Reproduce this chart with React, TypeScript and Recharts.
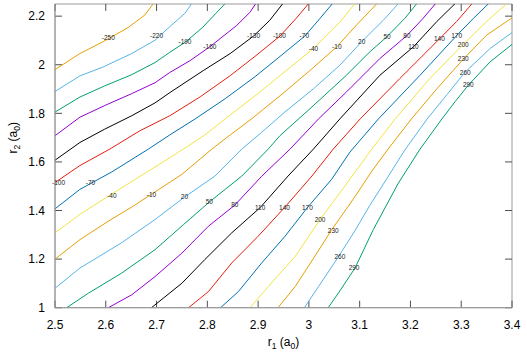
import React from 'react';
import { ComposedChart, Line, Scatter, XAxis, YAxis, ReferenceArea, ReferenceLine } from 'recharts';

type P = [number, number];

const levels = [-250, -220, -190, -160, -130, -100, -70, -40, -10, 20, 50, 80, 110, 140, 170, 200, 230, 260, 290];
const palette = ['#e69f00', '#56b4e9', '#009e73', '#9400d3', '#000000', '#e51e10', '#0072b2', '#f0e442'];

const c_m250: P[] = [[2.5, 1.98], [2.549, 2.046], [2.595, 2.095], [2.644, 2.153], [2.677, 2.205], [2.696, 2.258]];
const c_m220: P[] = [[2.5, 1.89], [2.549, 1.954], [2.595, 1.991], [2.651, 2.046], [2.697, 2.101], [2.73, 2.164], [2.756, 2.212], [2.772, 2.26]];
const c_m190: P[] = [[2.5, 1.805], [2.549, 1.867], [2.598, 1.913], [2.651, 1.959], [2.697, 2.009], [2.726, 2.051], [2.756, 2.092], [2.791, 2.154], [2.817, 2.212], [2.838, 2.258]];
const c_m160: P[] = [[2.5, 1.708], [2.549, 1.784], [2.598, 1.832], [2.651, 1.881], [2.697, 1.926], [2.726, 1.968], [2.766, 2.017], [2.805, 2.074], [2.858, 2.162], [2.884, 2.216], [2.898, 2.26]];
const c_m130: P[] = [[2.5, 1.607], [2.549, 1.68], [2.598, 1.735], [2.651, 1.79], [2.697, 1.843], [2.726, 1.885], [2.792, 1.976], [2.845, 2.046], [2.891, 2.118], [2.923, 2.183], [2.951, 2.258]];
const c_m100: P[] = [[2.5, 1.515], [2.549, 1.585], [2.608, 1.653], [2.667, 1.728], [2.726, 1.79], [2.786, 1.868], [2.845, 1.955], [2.896, 2.038], [2.943, 2.118], [2.975, 2.191], [3.002, 2.258]];
const c_m70: P[] = [[2.5, 1.407], [2.549, 1.487], [2.612, 1.559], [2.684, 1.653], [2.726, 1.711], [2.776, 1.777], [2.835, 1.86], [2.894, 1.951], [2.943, 2.034], [2.992, 2.118], [3.022, 2.191], [3.049, 2.258]];
const c_m40: P[] = [[2.5, 1.308], [2.549, 1.384], [2.608, 1.463], [2.69, 1.57], [2.753, 1.653], [2.795, 1.711], [2.835, 1.777], [2.894, 1.872], [2.953, 1.972], [3.009, 2.067], [3.061, 2.175], [3.093, 2.258]];
const c_m10: P[] = [[2.5, 1.2], [2.549, 1.28], [2.605, 1.356], [2.654, 1.418], [2.69, 1.467], [2.75, 1.549], [2.809, 1.653], [2.845, 1.711], [2.887, 1.777], [2.943, 1.872], [3.002, 1.976], [3.055, 2.074], [3.094, 2.164], [3.137, 2.258]];
const c_20: P[] = [[2.5, 1.08], [2.549, 1.163], [2.631, 1.267], [2.697, 1.363], [2.755, 1.455], [2.815, 1.542], [2.868, 1.653], [2.907, 1.722], [2.953, 1.806], [3.009, 1.901], [3.061, 1.998], [3.104, 2.095], [3.147, 2.184], [3.179, 2.258]];
const c_50: P[] = [[2.51, 0.98], [2.523, 1.0], [2.566, 1.06], [2.631, 1.142], [2.697, 1.239], [2.753, 1.342], [2.804, 1.435], [2.868, 1.542], [2.92, 1.653], [2.943, 1.708], [3.009, 1.832], [3.074, 1.957], [3.12, 2.053], [3.154, 2.116], [3.189, 2.191], [3.215, 2.258]];
const c_80: P[] = [[2.59, 0.98], [2.605, 1.0], [2.651, 1.053], [2.697, 1.128], [2.75, 1.225], [2.802, 1.335], [2.854, 1.422], [2.907, 1.541], [2.963, 1.653], [3.019, 1.777], [3.074, 1.888], [3.14, 2.026], [3.193, 2.12], [3.225, 2.191], [3.252, 2.258]];
const c_110: P[] = [[2.676, 0.98], [2.69, 1.0], [2.75, 1.101], [2.795, 1.198], [2.848, 1.308], [2.904, 1.412], [2.959, 1.542], [3.009, 1.653], [3.061, 1.777], [3.14, 1.957], [3.206, 2.074], [3.252, 2.178], [3.291, 2.258]];
const c_140: P[] = [[2.751, 0.98], [2.763, 1.0], [2.802, 1.066], [2.848, 1.184], [2.9, 1.294], [2.952, 1.412], [3.006, 1.542], [3.048, 1.653], [3.101, 1.777], [3.179, 1.943], [3.257, 2.106], [3.291, 2.178], [3.324, 2.258]];
const c_170: P[] = [[2.816, 0.98], [2.826, 1.0], [2.861, 1.066], [2.907, 1.184], [2.953, 1.294], [2.997, 1.412], [3.045, 1.529], [3.081, 1.641], [3.137, 1.777], [3.219, 1.957], [3.291, 2.12], [3.324, 2.191], [3.357, 2.258]];
const c_200: P[] = [[2.876, 0.98], [2.884, 1.0], [2.92, 1.087], [2.973, 1.211], [3.022, 1.363], [3.071, 1.501], [3.124, 1.653], [3.17, 1.777], [3.238, 1.943], [3.304, 2.084], [3.35, 2.178], [3.393, 2.258]];
const c_230: P[] = [[2.932, 0.98], [2.939, 1.0], [2.973, 1.087], [3.01, 1.206], [3.044, 1.318], [3.091, 1.458], [3.124, 1.562], [3.156, 1.653], [3.202, 1.777], [3.252, 1.901], [3.304, 2.023], [3.35, 2.122], [3.405, 2.2]];
const c_260: P[] = [[2.985, 0.98], [2.991, 1.0], [3.019, 1.087], [3.057, 1.206], [3.091, 1.318], [3.12, 1.421], [3.154, 1.533], [3.189, 1.649], [3.233, 1.777], [3.272, 1.877], [3.307, 1.968], [3.357, 2.067], [3.405, 2.14]];
const c_290: P[] = [[3.032, 0.98], [3.038, 1.0], [3.061, 1.069], [3.091, 1.164], [3.127, 1.322], [3.176, 1.512], [3.219, 1.653], [3.262, 1.777], [3.288, 1.848], [3.314, 1.916], [3.357, 2.012], [3.405, 2.092]];

const contours: P[][] = [c_m250, c_m220, c_m190, c_m160, c_m130, c_m100, c_m70, c_m40, c_m10, c_20, c_50, c_80, c_110, c_140, c_170, c_200, c_230, c_260, c_290];

// contour labels: [x, y, level]
const upperLabels: [number, number, number][] = [
  [2.605, 2.111, -250], [2.7, 2.118, -220], [2.756, 2.095, -190], [2.805, 2.074, -160], [2.891, 2.118, -130],
  [2.942, 2.119, -100], [2.991, 2.119, -70], [3.009, 2.067, -40], [3.055, 2.074, -10], [3.104, 2.095, 20],
  [3.154, 2.116, 50], [3.193, 2.12, 80], [3.206, 2.074, 110], [3.257, 2.106, 140], [3.291, 2.12, 170],
  [3.304, 2.084, 200], [3.304, 2.023, 230], [3.308, 1.968, 260], [3.314, 1.916, 290],
];
const lowerLabels: [number, number, number][] = [
  [2.507, 1.515, -100], [2.57, 1.515, -70], [2.612, 1.463, -40], [2.69, 1.467, -10], [2.755, 1.455, 20],
  [2.804, 1.435, 50], [2.854, 1.422, 80], [2.904, 1.412, 110], [2.952, 1.412, 140], [2.997, 1.412, 170],
  [3.022, 1.363, 200], [3.048, 1.315, 230], [3.061, 1.211, 260], [3.089, 1.163, 290],
];

const xTicks = [2.5, 2.6, 2.7, 2.8, 2.9, 3, 3.1, 3.2, 3.3, 3.4];
const yTicks = [1, 1.2, 1.4, 1.6, 1.8, 2, 2.2];
const X_DOMAIN: [number, number] = [2.5, 3.4];
const Y_DOMAIN: [number, number] = [1, 2.25];

const FONT = '"Liberation Sans", Arial, Helvetica, sans-serif';
const BORDER = '#9a9a9a';
const TICK = '#505050';
// tick mark length (7px) expressed in axis units
const XT_LEN = 7 / 243; // vertical marks on x axes, in y units
const YT_LEN = 7 / 507.8; // horizontal marks on y axes, in x units

const BottomTick = (p: any) => (
  <text x={p.x} y={p.y + 21.6} textAnchor="middle" fontSize={12} fontFamily={FONT} fill="#000">
    {String(p.payload.value)}
  </text>
);
const LeftTick = (p: any) => (
  <text x={p.x - 10} y={p.y + 4.3} textAnchor="end" fontSize={12} fontFamily={FONT} fill="#000">
    {String(p.payload.value)}
  </text>
);

const XLabel = (p: any) => {
  const vb = p.viewBox || { x: 55, y: 307.7, width: 457, height: 47.3 };
  const cx = vb.x + vb.width / 2;
  const y = vb.y + 38.3;
  return (
    <text x={cx} y={y} textAnchor="middle" fontSize={12} fontFamily={FONT} fill="#000">
      <tspan>r</tspan>
      <tspan fontSize={8.5} dy={3}>1</tspan>
      <tspan dy={-3}> (a</tspan>
      <tspan fontSize={8.5} dy={3}>0</tspan>
      <tspan dy={-3}>)</tspan>
    </text>
  );
};
const YLabel = (p: any) => {
  const vb = p.viewBox || { x: 0, y: 4, width: 55, height: 303.7 };
  const x = 17;
  const y = vb.y + vb.height / 2 - 18;
  return (
    <text x={x} y={y} transform={`rotate(-90 ${x} ${y})`} textAnchor="middle" fontSize={12} fontFamily={FONT} fill="#000">
      <tspan>r</tspan>
      <tspan fontSize={8.5} dy={3}>2</tspan>
      <tspan dy={-3}> (a</tspan>
      <tspan fontSize={8.5} dy={3}>0</tspan>
      <tspan dy={-3}>)</tspan>
    </text>
  );
};

const renderLabel = (p: any) => (
  <text x={p.cx} y={p.cy} dy={2.3} textAnchor="middle" fontSize={6.5} fontFamily={FONT} fill="#222">
    {p.payload.t}
  </text>
);

export default function App() {
  const series = contours.map((pts) => pts.map(([x, y]) => ({ x, y })));
  const labelData = [...upperLabels, ...lowerLabels].map(([x, y, v]) => ({ x, y, t: String(v) }));
  const [x0, x1] = X_DOMAIN;
  const [y0, y1] = Y_DOMAIN;
  return (
    <div style={{ position: 'absolute', left: 0, top: 0, width: 527, height: 355, background: '#fff' }}>
      <ComposedChart width={527} height={355} margin={{ top: 4, right: 15, bottom: 0, left: 0 }}>
        <XAxis
          xAxisId="b"
          type="number"
          dataKey="x"
          domain={X_DOMAIN}
          ticks={xTicks}
          interval={0}
          allowDataOverflow
          height={47.3}
          tickSize={0}
          tickMargin={0}
          tickLine={false}
          axisLine={{ stroke: BORDER }}
          tick={<BottomTick />}
          label={<XLabel />}
        />
        <YAxis
          yAxisId="l"
          type="number"
          dataKey="y"
          domain={Y_DOMAIN}
          ticks={yTicks}
          interval={0}
          allowDataOverflow
          width={55}
          tickSize={0}
          tickMargin={0}
          tickLine={false}
          axisLine={{ stroke: BORDER }}
          tick={<LeftTick />}
          label={<YLabel />}
        />
        <XAxis xAxisId="h" orientation="top" height={0} type="number" dataKey="x" domain={X_DOMAIN} hide />
        <YAxis yAxisId="h" orientation="right" width={0} type="number" dataKey="y" domain={Y_DOMAIN} hide />

        <ReferenceArea
          xAxisId="b"
          yAxisId="l"
          x1={x0}
          x2={x1}
          y1={y0}
          y2={y1}
          fill="none"
          fillOpacity={0}
          stroke={BORDER}
          strokeWidth={1}
          ifOverflow="visible"
        />
        {xTicks.map((t) => (
          <ReferenceLine
            key={`xb${t}`}
            xAxisId="b"
            yAxisId="l"
            segment={[{ x: t, y: y0 }, { x: t, y: y0 + XT_LEN }]}
            stroke={TICK}
            strokeWidth={1}
            ifOverflow="visible"
          />
        ))}
        {xTicks.map((t) => (
          <ReferenceLine
            key={`xt${t}`}
            xAxisId="b"
            yAxisId="l"
            segment={[{ x: t, y: y1 }, { x: t, y: y1 - XT_LEN }]}
            stroke={TICK}
            strokeWidth={1}
            ifOverflow="visible"
          />
        ))}
        {yTicks.map((t) => (
          <ReferenceLine
            key={`yl${t}`}
            xAxisId="b"
            yAxisId="l"
            segment={[{ x: x0, y: t }, { x: x0 + YT_LEN, y: t }]}
            stroke={TICK}
            strokeWidth={1}
            ifOverflow="visible"
          />
        ))}
        {yTicks.map((t) => (
          <ReferenceLine
            key={`yr${t}`}
            xAxisId="b"
            yAxisId="l"
            segment={[{ x: x1, y: t }, { x: x1 - YT_LEN, y: t }]}
            stroke={TICK}
            strokeWidth={1}
            ifOverflow="visible"
          />
        ))}

        {series.map((d, i) => (
          <Line
            key={levels[i]}
            xAxisId="b"
            yAxisId="l"
            data={d}
            dataKey="y"
            type="linear"
            stroke={palette[i % palette.length]}
            strokeWidth={1}
            dot={false}
            activeDot={false}
            isAnimationActive={false}
          />
        ))}
        <Scatter
          xAxisId="h"
          yAxisId="h"
          data={labelData}
          dataKey="y"
          shape={renderLabel}
          isAnimationActive={false}
        />
      </ComposedChart>
    </div>
  );
}
